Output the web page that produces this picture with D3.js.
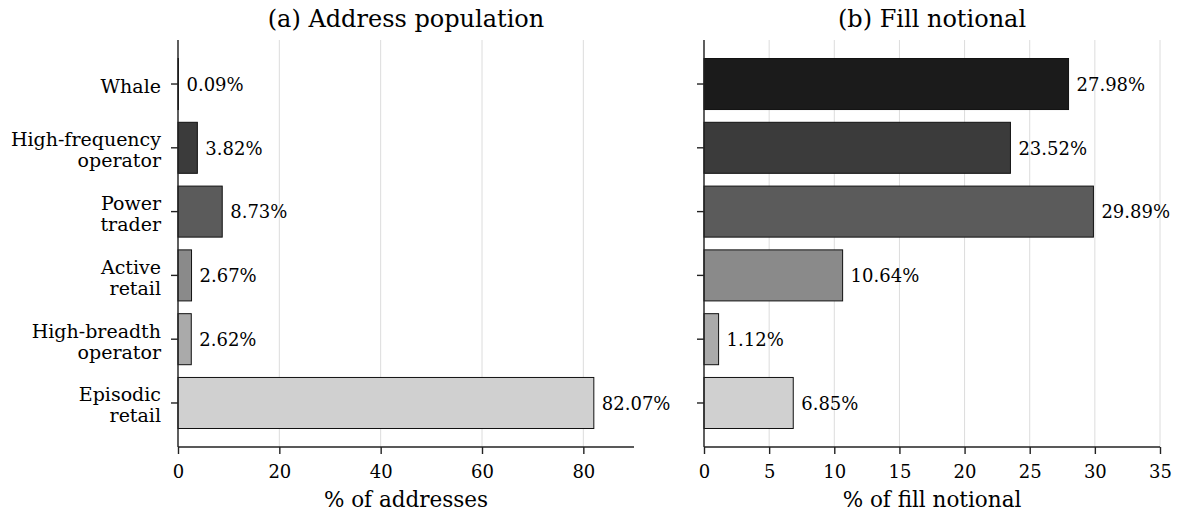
<!DOCTYPE html>
<html>
<head>
<meta charset="utf-8">
<script src="https://cdn.jsdelivr.net/npm/d3@7"></script>
<style>
  body { margin: 0; background: #fff; }
  text { font-family: "DejaVu Serif", serif; fill: #000; }
</style>
</head>
<body>
<svg></svg>
<script>
// Chart data
const segments = ["Whale", "High-frequency operator", "Power trader", "Active retail", "High-breadth operator", "Episodic retail"];
const addressShare = [0.09, 3.82, 8.73, 2.67, 2.62, 82.07];
const notionalShare = [27.98, 23.52, 29.89, 10.64, 1.12, 6.85];
const segmentColors = ["#1b1b1b", "#3b3b3b", "#5b5b5b", "#8a8a8a", "#aaaaaa", "#d0d0d0"];
const addressTicks = [0, 20, 40, 60, 80];
const notionalTicks = [0, 5, 10, 15, 20, 25, 30, 35];

const width = 1182;
const height = 515;

const svg = d3.select("svg").attr("width", width).attr("height", height);

const plotTop = 40;
const plotBottom = 447;

const yScale = d3.scaleBand()
  .domain(segments)
  .range([plotTop, plotBottom])
  .paddingInner(0.2)
  .paddingOuter(0.29);

// Draw one panel
const panel = (opts) => {
  const xScale = d3.scaleLinear().domain(opts.domain).range([opts.left, opts.right]);
  const g = svg.append("g");

  // grid
  g.selectAll("line.grid")
    .data(opts.ticks)
    .enter()
    .append("line")
    .attr("class", "grid")
    .attr("x1", (d) => xScale(d))
    .attr("x2", (d) => xScale(d))
    .attr("y1", plotTop)
    .attr("y2", plotBottom)
    .attr("stroke", "#dcdcdc")
    .attr("stroke-width", 1);

  // bars
  g.selectAll("rect")
    .data(segments)
    .enter()
    .append("rect")
    .attr("x", xScale(0))
    .attr("y", (d) => yScale(d))
    .attr("width", (d, i) => xScale(opts.values[i]) - xScale(0))
    .attr("height", yScale.bandwidth())
    .attr("fill", (d, i) => segmentColors[i])
    .attr("stroke", "#111")
    .attr("stroke-width", 1);

  // value labels
  g.selectAll("text.value")
    .data(segments)
    .enter()
    .append("text")
    .attr("class", "value")
    .attr("x", (d, i) => xScale(opts.values[i]) + 8)
    .attr("y", (d) => yScale(d) + yScale.bandwidth() / 2)
    .attr("dy", "0.38em")
    .attr("font-size", 18)
    .text((d, i) => opts.values[i].toFixed(2) + "%");

  // x axis
  const xAxis = d3.axisBottom(xScale).tickValues(opts.ticks).tickSize(7).tickPadding(11);
  const xAxisG = g.append("g")
    .attr("transform", `translate(0, ${plotBottom})`)
    .call(xAxis);
  xAxisG.select(".domain").attr("stroke", "#222").attr("stroke-width", 1.4)
    .attr("d", `M${opts.left},0H${opts.right}`);
  xAxisG.selectAll(".tick line").attr("stroke", "#222").attr("stroke-width", 1.4);
  xAxisG.selectAll(".tick text").attr("font-size", 18).attr("font-family", "DejaVu Serif").attr("fill", "#000");

  // y axis
  const yAxis = d3.axisLeft(yScale).tickSize(7).tickSizeOuter(0).tickFormat(() => "");
  const yAxisG = g.append("g")
    .attr("transform", `translate(${opts.left}, 0)`)
    .call(yAxis);
  yAxisG.select(".domain").attr("stroke", "#222").attr("stroke-width", 1.4)
    .attr("d", `M0,${plotTop}V${plotBottom}`);
  yAxisG.selectAll(".tick line").attr("stroke", "#222").attr("stroke-width", 1.4);

  if (opts.showLabels) {
    yAxisG.selectAll(".tick text").remove();
    const ticks = yAxisG.selectAll(".tick");
    ticks.each(function (d) {
      const words = d.split(" ");
      const lines = words.length > 1 ? [words.slice(0, -1).join(" "), words[words.length - 1]] : words;
      const t = d3.select(this).append("text")
        .attr("text-anchor", "end")
        .attr("font-size", 19);
      lines.forEach((ln, k) => {
        t.append("tspan")
          .attr("x", -17)
          .attr("y", (k - (lines.length - 1) / 2) * 21 + 9)
          .text(ln);
      });
    });
  }

  // title
  g.append("text")
    .attr("x", (opts.left + opts.right) / 2)
    .attr("y", 27)
    .attr("text-anchor", "middle")
    .attr("font-size", 24)
    .text(opts.title);

  // axis label
  g.append("text")
    .attr("x", (opts.left + opts.right) / 2)
    .attr("y", 507)
    .attr("text-anchor", "middle")
    .attr("font-size", 21.5)
    .text(opts.xLabel);
};

panel({
  left: 178, right: 634, domain: [0, 90],
  ticks: addressTicks, values: addressShare,
  title: "(a) Address population", xLabel: "% of addresses", showLabels: true
});

panel({
  left: 704, right: 1160, domain: [0, 35],
  ticks: notionalTicks, values: notionalShare,
  title: "(b) Fill notional", xLabel: "% of fill notional", showLabels: false
});
</script>
</body>
</html>
